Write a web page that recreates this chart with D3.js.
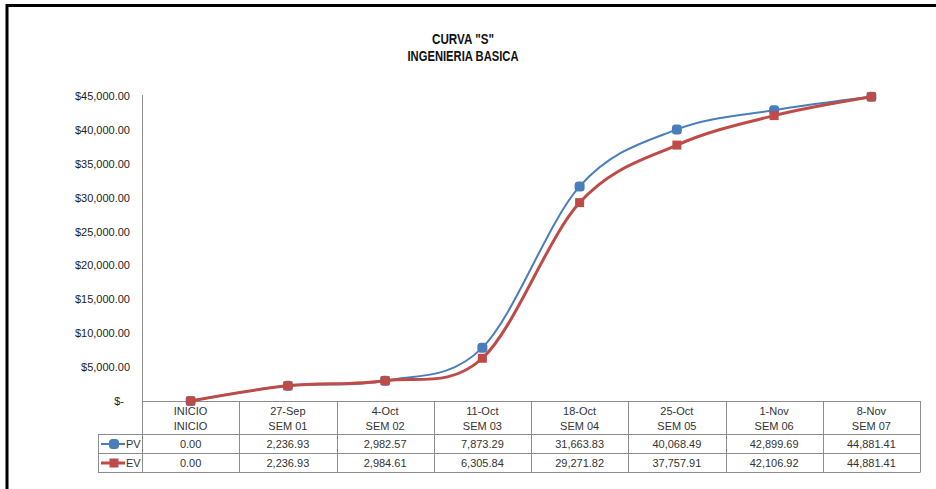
<!DOCTYPE html>
<html>
<head>
<meta charset="utf-8">
<script src="https://cdn.jsdelivr.net/npm/d3@7"></script>
<style>
  html, body { margin: 0; padding: 0; background: #fff; }
  svg { display: block; }
  text { font-family: "Liberation Sans", Arial, sans-serif; }
</style>
</head>
<body>
<svg id="chart" width="936" height="489"></svg>
<script>
// Weekly schedule: date row and week row of the data table
const dates = ["INICIO", "27-Sep", "4-Oct", "11-Oct", "18-Oct", "25-Oct", "1-Nov", "8-Nov"];
const weeks = ["INICIO", "SEM 01", "SEM 02", "SEM 03", "SEM 04", "SEM 05", "SEM 06", "SEM 07"];

// Cumulative planned value (PV) and earned value (EV)
const pv = [0.00, 2236.93, 2982.57, 7873.29, 31663.83, 40068.49, 42899.69, 44881.41];
const ev = [0.00, 2236.93, 2984.61, 6305.84, 29271.82, 37757.91, 42106.92, 44881.41];

// Value axis ticks
const yTicks = [0, 5000, 10000, 15000, 20000, 25000, 30000, 35000, 40000, 45000];

const titleLines = ["CURVA \"S\"", "INGENIERIA BASICA"];

const series = [
  { name: "PV", values: pv, color: "#4A7EBB", width: 2, marker: "round" },
  { name: "EV", values: ev, color: "#BE4B48", width: 3, marker: "square" }
];

const svg = d3.select("#chart");

// Outer frame (top and left edges)
svg.append("line").attr("x1", 6).attr("x2", 936).attr("y1", 5.5).attr("y2", 5.5)
  .attr("stroke", "#000").attr("stroke-width", 3);
svg.append("line").attr("x1", 7).attr("x2", 7).attr("y1", 4).attr("y2", 489)
  .attr("stroke", "#000").attr("stroke-width", 3);

// Title, set in a condensed face
const titleWidths = [62, 111];
const title = svg.append("g").attr("text-anchor", "middle")
  .style("font-size", "14px").style("font-weight", "bold").attr("fill", "#111");
titleLines.forEach((t, i) => {
  title.append("text").attr("x", 463).attr("y", 44 + i * 16.5)
    .attr("textLength", titleWidths[i]).attr("lengthAdjust", "spacingAndGlyphs")
    .text(t);
});

// Scales
const plotLeft = 142, plotRight = 920, plotTop = 96, plotBottom = 401;
const x = d3.scaleBand().domain(dates).range([plotLeft, plotRight]).padding(0);
const y = d3.scaleLinear().domain([0, 45000]).range([plotBottom, plotTop]);
const cx = d => x(d) + x.bandwidth() / 2;

const gridColor = "#8c8c8c";

// Value axis
const money = d3.format(",.2f");
const yAxis = d3.axisLeft(y).tickValues(yTicks).tickSize(0).tickPadding(12)
  .tickFormat(v => v === 0 ? "$-" : "$" + money(v));
const yg = svg.append("g").attr("transform", `translate(${plotLeft},0)`).call(yAxis);
yg.select(".domain").attr("stroke", gridColor).attr("d", `M0.5,${plotTop - 1}V${plotBottom}`);
yg.selectAll(".tick text")
  .style("font-size", "11px").attr("fill", "#222")
  .attr("dx", v => v === 0 ? -6 : 0);

// Data table below the plot
const rowPV = [434, 453];
const rowEV = [453, 472];
const legendLeft = 98;
const table = svg.append("g");

// Horizontal rules
[[plotLeft, plotBottom], [legendLeft, rowPV[0]], [legendLeft, rowEV[0]], [legendLeft, rowEV[1]]]
  .forEach(([x0, yy]) => {
    table.append("line").attr("x1", x0).attr("x2", plotRight)
      .attr("y1", yy + 0.5).attr("y2", yy + 0.5).attr("stroke", gridColor);
  });
// Column rules
const colEdges = dates.map(d => x(d)).concat([plotRight]);
colEdges.forEach(xx => {
  table.append("line").attr("x1", Math.round(xx) + 0.5).attr("x2", Math.round(xx) + 0.5)
    .attr("y1", plotBottom).attr("y2", rowEV[1] + 0.5).attr("stroke", gridColor);
});
table.append("line").attr("x1", legendLeft + 0.5).attr("x2", legendLeft + 0.5)
  .attr("y1", rowPV[0]).attr("y2", rowEV[1] + 0.5).attr("stroke", gridColor);

const cellText = table.append("g").attr("text-anchor", "middle")
  .style("font-size", "11px").attr("fill", "#333");
dates.forEach((d, i) => {
  cellText.append("text").attr("x", cx(d)).attr("y", 415).text(d);
  cellText.append("text").attr("x", cx(d)).attr("y", 430).text(weeks[i]);
  cellText.append("text").attr("x", cx(d)).attr("y", 448).text(money(pv[i]));
  cellText.append("text").attr("x", cx(d)).attr("y", 467).text(money(ev[i]));
});

// Marker drawing helper
function drawMarker(g, s, px, py) {
  if (s.marker === "round") {
    g.append("rect").attr("x", px - 5).attr("y", py - 5).attr("width", 10).attr("height", 10)
      .attr("rx", 3.5).attr("fill", s.color);
  } else {
    g.append("rect").attr("x", px - 4.5).attr("y", py - 4.5).attr("width", 9).attr("height", 9)
      .attr("fill", s.color);
  }
}

// Legend keys inside the table
series.forEach((s, i) => {
  const row = i === 0 ? rowPV : rowEV;
  const my = (row[0] + row[1]) / 2 + 0.5;
  const lg = table.append("g");
  lg.append("line").attr("x1", 101).attr("x2", 125).attr("y1", my).attr("y2", my)
    .attr("stroke", s.color).attr("stroke-width", s.width);
  drawMarker(lg, s, 114, my);
  lg.append("text").attr("x", 126).attr("y", my + 4).style("font-size", "11px")
    .attr("fill", "#333").text(s.name);
});

// Smoothed S-curves with markers
const line = d3.line()
  .x((v, i) => cx(dates[i]))
  .y(v => y(v))
  .curve(d3.curveCardinal.tension(0));

series.forEach(s => {
  const g = svg.append("g");
  g.append("path").attr("d", line(s.values)).attr("fill", "none")
    .attr("stroke", s.color).attr("stroke-width", s.width)
    .attr("stroke-linejoin", "round").attr("stroke-linecap", "round");
  s.values.forEach((v, i) => drawMarker(g, s, cx(dates[i]), y(v)));
});
</script>
</body>
</html>
